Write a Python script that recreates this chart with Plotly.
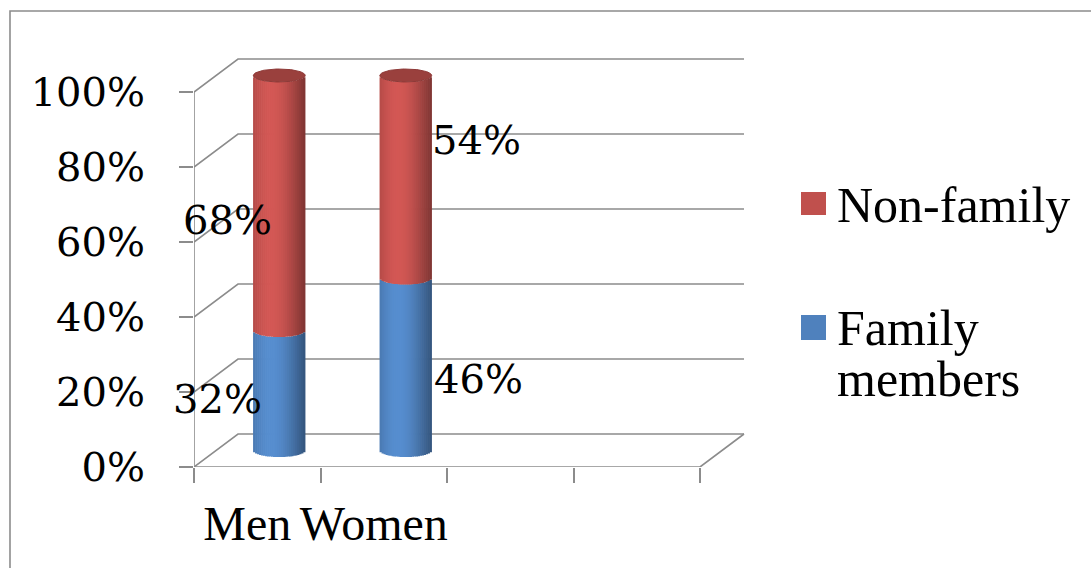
import numpy as np
import plotly.graph_objects as go

# ---- data ----
categories = ["Men", "Women"]
family_members = [32, 46]
non_family = [68, 54]
series_names = ["Family members", "Non-family"]
y_ticks = [0, 20, 40, 60, 80, 100]
y_tick_labels = ["0%", "20%", "40%", "60%", "80%", "100%"]
x_slots = [0, 1, 2, 3, 4]

# ---- geometry of the pseudo-3D frame ----
W, H = 1091, 568
X0, PX_X = 194, 126.5        # pixel of x=0 and pixels per category slot
Y0, PX_Y = 467, 3.75         # pixel of 0% and pixels per percent
DEPTH_X, DEPTH_Y = 44, 33    # back-wall offset in pixels
XR = [0, 4.4]
YR = [0, 110]                # frame axes
YR_BARS = [-5, 110]          # room below 0 for the rounded cylinder bottoms
ddx = DEPTH_X / PX_X
ddy = DEPTH_Y / PX_Y

GRID = "#8C8C8C"
BLUE = (79, 129, 189)
RED = (192, 80, 77)


def xdom(shift):
    return [(X0 + shift) / W, (X0 + shift + XR[1] * PX_X) / W]


def ydom(shift, rng):
    lo = Y0 - rng[0] * PX_Y
    hi = Y0 - rng[1] * PX_Y
    return [(H - lo + shift) / H, (H - hi + shift) / H]


def shade(rgb, t):
    # cylinder lighting: bright band left of centre, darker rims
    f = 0.78 + 0.32 * np.cos((t - 0.35) * np.pi * 0.95)
    r, g, b = (int(max(0, min(255, c * f))) for c in rgb)
    return f"rgb({r},{g},{b})"


fig = go.Figure()

# ---- walls, floor and front axis line ----
gx, gy = [], []
last = x_slots[-1]
for v in y_ticks:
    gx += [0, ddx, last + ddx, None]
    gy += [v, v + ddy, v + ddy, None]
gx += [0, 0, None, 0, last, last + ddx, None]
gy += [0, y_ticks[-1], None, 0, 0, ddy, None]
fig.add_trace(go.Scatter(x=gx, y=gy, mode="lines", line=dict(color=GRID, width=1.6),
                         hoverinfo="skip", showlegend=False))

# ---- cylinders (mid-depth plane), built from vertical shaded strips ----
BAR_W = 0.41                  # cylinder width in slot units
N = 26
strip = BAR_W / N
cap = 6.5 / PX_Y              # ellipse half-height in percent units
centers = [i + 0.5 for i in range(len(categories))]
totals = [a + b for a, b in zip(family_members, non_family)]

for k in range(N):
    t = (k + 0.5) / N
    off = -BAR_W / 2 + (k + 0.5) * strip
    sag = cap * np.sqrt(max(0.0, 1 - (2 * off / BAR_W) ** 2))
    xs = [c + off for c in centers]
    fig.add_trace(go.Bar(
        x=xs, y=family_members, base=[-sag] * len(xs), width=strip * 1.25,
        marker=dict(color=shade(BLUE, t), line=dict(width=0)),
        xaxis="x2", yaxis="y2", showlegend=False, name=series_names[0],
        hovertemplate="%{y}%<extra>" + series_names[0] + "</extra>"))
    fig.add_trace(go.Bar(
        x=xs, y=non_family, base=[f - sag for f in family_members], width=strip * 1.25,
        marker=dict(color=shade(RED, t), line=dict(width=0)),
        xaxis="x2", yaxis="y2", showlegend=False, name=series_names[1],
        hovertemplate="%{y}%<extra>" + series_names[1] + "</extra>"))

# top caps
th = np.linspace(0, 2 * np.pi, 90)
for c, tot in zip(centers, totals):
    fig.add_trace(go.Scatter(
        x=c + BAR_W / 2 * np.cos(th), y=tot + cap * np.sin(th),
        mode="lines", fill="toself", fillcolor="#9A403D",
        line=dict(color="#8E3A38", width=1), xaxis="x2", yaxis="y2",
        hoverinfo="skip", showlegend=False))

# ---- data labels ----
label_font = dict(family="DejaVu Serif", size=40, color="black")
label_shift = {  # (xshift, yshift) in pixels per category / series
    (0, 0): (-62, -8), (0, 1): (-52, -17),
    (1, 0): (73, -15), (1, 1): (71, 37),
}
annotations = []
for i, c in enumerate(centers):
    segs = [(0, family_members[i]), (family_members[i], non_family[i])]
    for s, (base, val) in enumerate(segs):
        xs_, ys_ = label_shift[(i, s)]
        annotations.append(dict(
            x=c, y=base + val / 2, xref="x2", yref="y2", text=f"{val}%",
            showarrow=False, font=label_font, xshift=xs_, yshift=ys_,
            xanchor="center", yanchor="middle"))

# ---- legend ----
leg_font = dict(family="Liberation Serif", size=50, color="black")
legend_rows = [("Non-family", RED, 192, 215, [("Non-family", 205)]),
               ("Family members", BLUE, 315, 340, [("Family", 328), ("members", 379)])]
shapes = []
for name, rgb, top, bot, lines in legend_rows:
    shapes.append(dict(type="rect", xref="paper", yref="paper",
                       x0=801 / W, x1=826 / W, y0=1 - bot / H, y1=1 - top / H,
                       fillcolor=f"rgb{rgb}", line=dict(width=0)))
    for txt, yc in lines:
        annotations.append(dict(x=835 / W, y=1 - yc / H, xref="paper", yref="paper",
                                text=txt, showarrow=False, font=leg_font,
                                xanchor="left", yanchor="middle"))

# outer chart border
shapes.append(dict(type="rect", xref="paper", yref="paper",
                   x0=10 / W, x1=1.05, y0=-0.05, y1=1 - 11 / H,
                   line=dict(color=GRID, width=1.6), fillcolor="rgba(0,0,0,0)"))

fig.update_layout(
    width=W, height=H, margin=dict(l=0, r=0, t=0, b=0, autoexpand=False),
    paper_bgcolor="white", plot_bgcolor="rgba(0,0,0,0)",
    barmode="overlay", showlegend=False,
    xaxis=dict(domain=xdom(0), range=XR, tickvals=x_slots, showticklabels=False,
               ticks="outside", ticklen=15, tickwidth=1.6, tickcolor=GRID,
               automargin=False,
               showgrid=False, zeroline=False, showline=False, fixedrange=True),
    yaxis=dict(domain=ydom(0, YR), range=YR, tickvals=y_ticks, ticktext=y_tick_labels,
               ticks="outside", ticklen=14, tickwidth=1.6, tickcolor=GRID,
               ticklabelstandoff=26, automargin=False,
               tickfont=dict(family="DejaVu Serif", size=40, color="black"),
               showgrid=False, zeroline=False, showline=False, fixedrange=True),
    # plane through the middle of the depth, shifted half the wall offset
    xaxis2=dict(domain=xdom(DEPTH_X / 2), range=XR, anchor="y2",
                visible=False, fixedrange=True, automargin=False),
    yaxis2=dict(domain=ydom(DEPTH_Y / 2, YR_BARS), range=YR_BARS, anchor="x2",
                visible=False, fixedrange=True, automargin=False),
    xaxis3=dict(domain=xdom(0), range=XR, overlaying="x", anchor="y",
                tickvals=centers, ticktext=categories, ticks="",
                ticklabelstandoff=24, ticklabelshift=-10, automargin=False,
                tickfont=dict(family="Liberation Serif", size=48, color="black"),
                showgrid=False, zeroline=False, showline=False, fixedrange=True),
    shapes=shapes, annotations=annotations,
)

# axis for category names needs at least one trace to render
fig.add_trace(go.Scatter(x=[None], y=[None], xaxis="x3", yaxis="y", showlegend=False,
                         hoverinfo="skip"))

fig.write_html("out.html")
